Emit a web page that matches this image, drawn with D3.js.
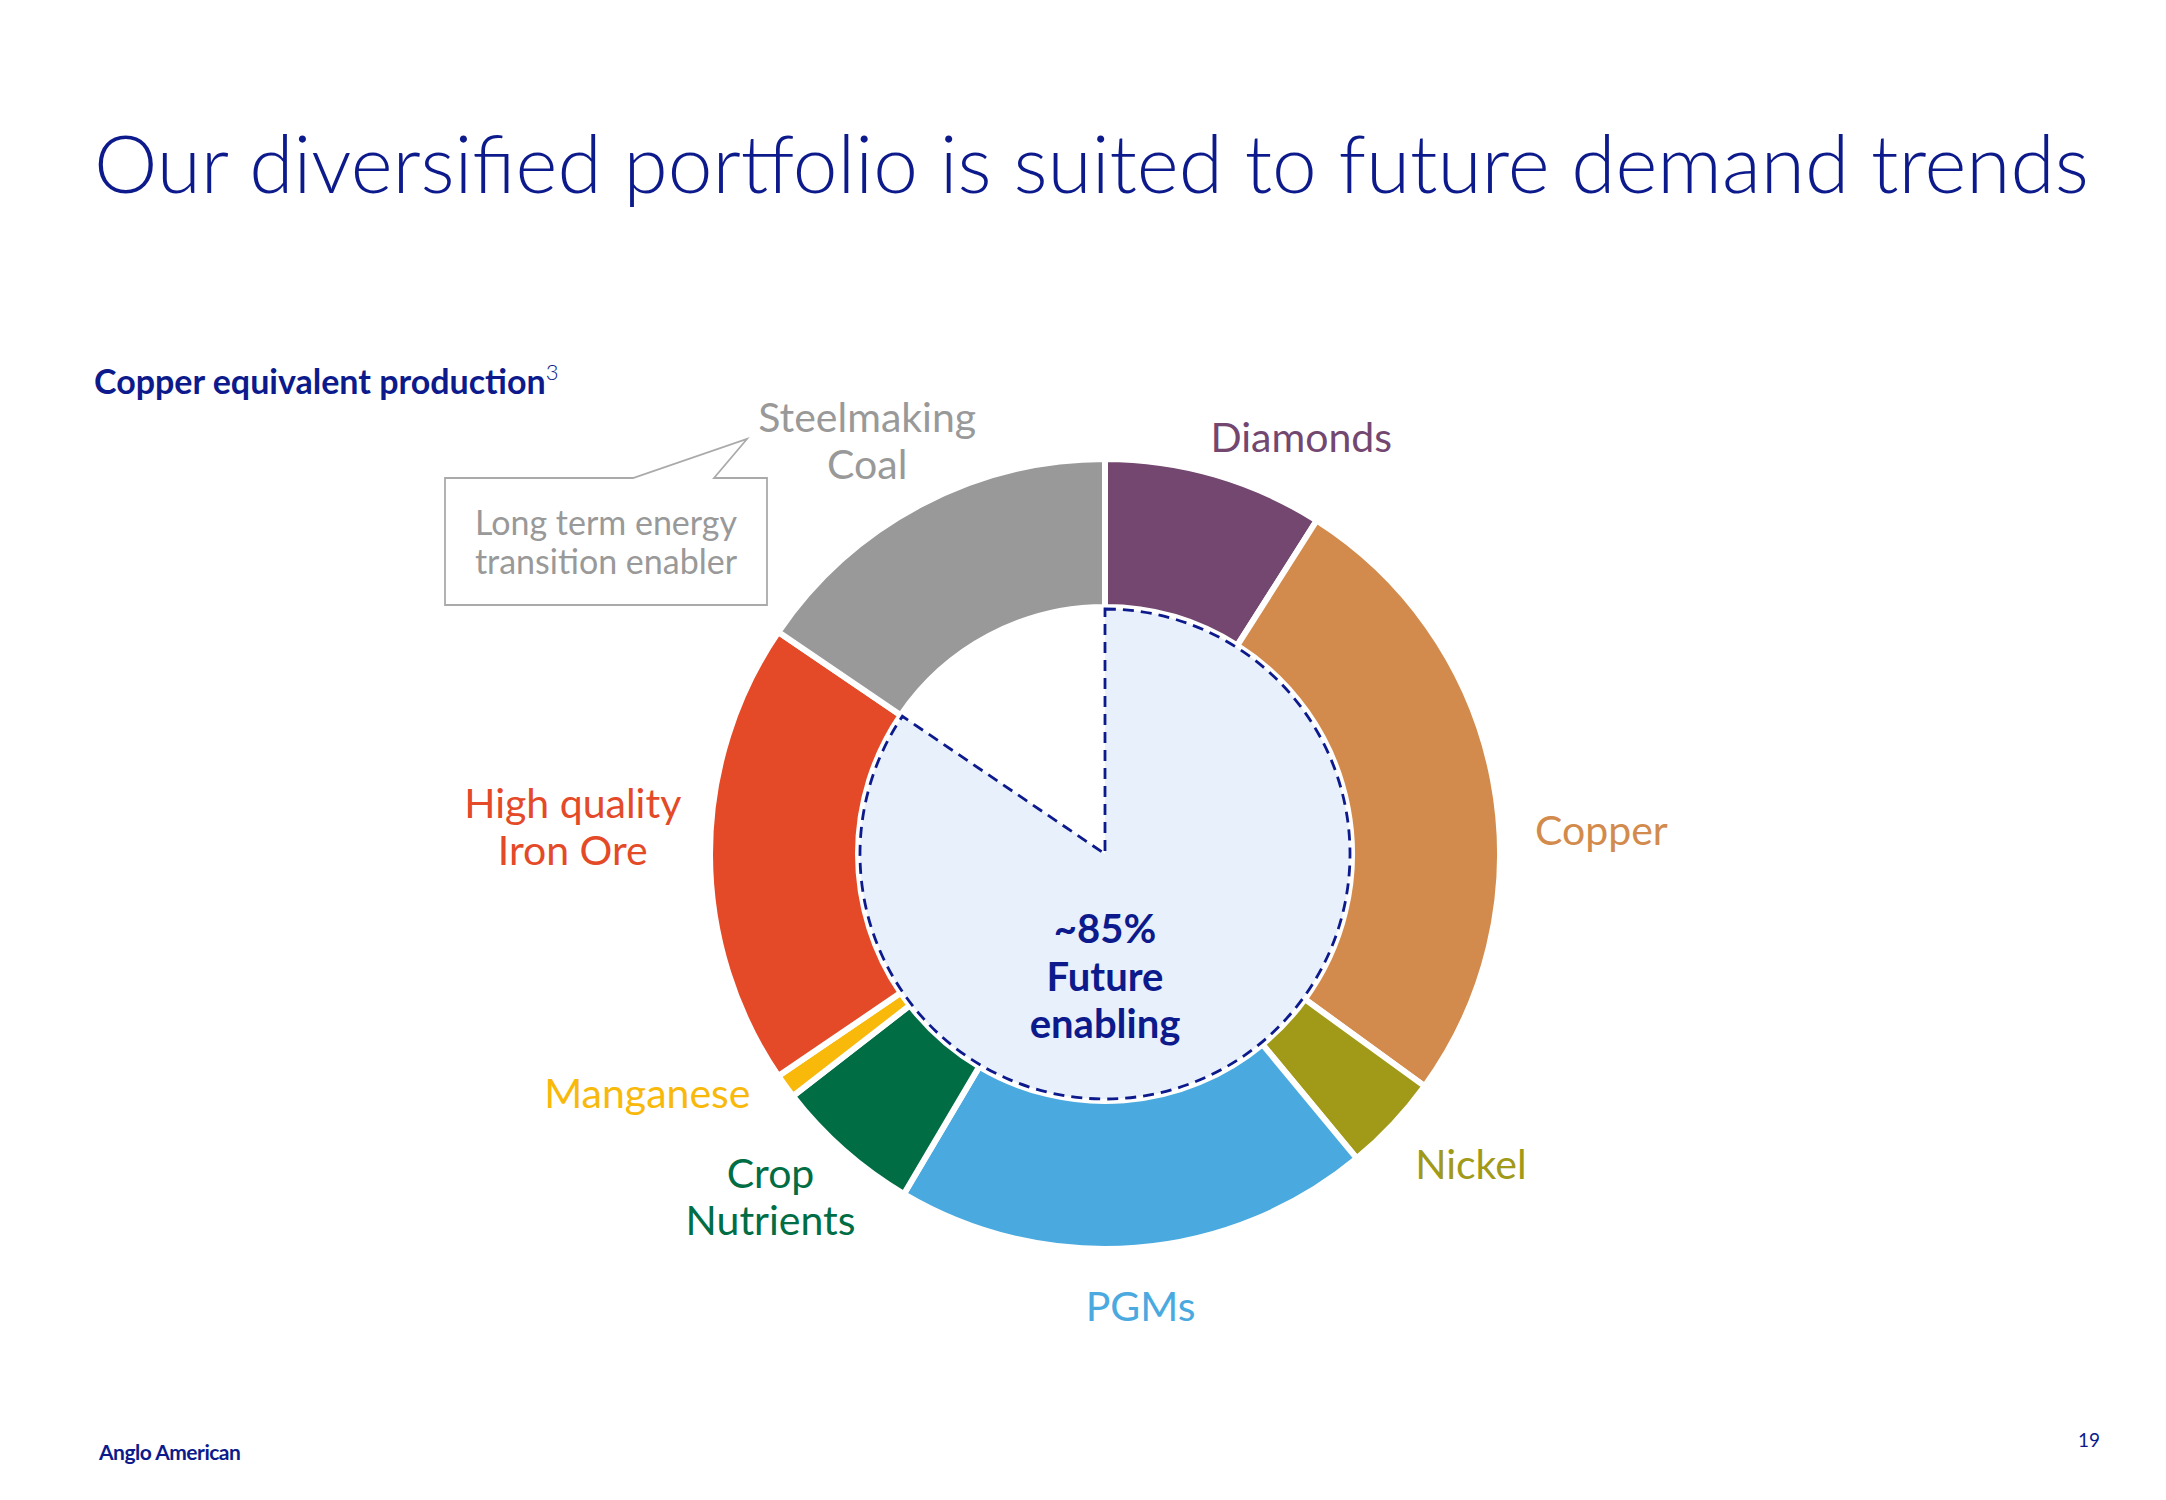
<!DOCTYPE html>
<html>
<head>
<meta charset="utf-8">
<script src="https://cdn.jsdelivr.net/npm/d3@7"></script>
<style>
  body { margin: 0; background: #fff; }
  svg { display: block; font-family: Lato, "Noto Sans", sans-serif; }
</style>
</head>
<body>
<div id="chart"></div>
<script>
// Copper equivalent production share by commodity (%), clockwise from 12 o'clock
const categories = ["Diamonds", "Copper", "Nickel", "PGMs", "Crop Nutrients", "Manganese", "High quality Iron Ore", "Steelmaking Coal"];
const shares = [9, 26, 4, 19.5, 6, 1, 19, 15.5];
const colors = ["#734770", "#d28b4c", "#a19a18", "#4aa9df", "#006d44", "#f8b90b", "#e44a27", "#999999"];
const labelLines = [["Diamonds"], ["Copper"], ["Nickel"], ["PGMs"], ["Crop", "Nutrients"], ["Manganese"], ["High quality", "Iron Ore"], ["Steelmaking", "Coal"]];
const futureEnabling = categories.slice(0, 7);
const centreText = ["~85%", "Future", "enabling"];

const width = 2166, height = 1500;
const navy = "#0c1a8c";
const cx = 1105, cy = 854;
const outerR = 395, innerR = 247;

const svg = d3.select("#chart").append("svg")
    .attr("width", width)
    .attr("height", height);

// Title, sized to span the same width as the original
const title = svg.append("text")
    .attr("x", 94).attr("y", 193)
    .attr("font-size", 84)
    .attr("font-weight", 300)
    .attr("fill", navy)
    .text("Our diversified portfolio is suited to future demand trends");
const tw = title.node().getComputedTextLength();
title.attr("font-size", 84 * 1995 / tw);

// Subtitle
const sub = svg.append("text")
    .attr("x", 94).attr("y", 394)
    .attr("font-size", 34)
    .attr("font-weight", 700)
    .attr("fill", navy);
sub.append("tspan").text("Copper equivalent production");
sub.append("tspan").attr("dy", -14).attr("font-size", 22).attr("font-weight", 300).text("3");

// Pie layout
const data = categories.map((c, i) => ({ name: c, value: shares[i], color: colors[i], lines: labelLines[i] }));
const pie = d3.pie().value(d => d.value).sort(null);
const arcs = pie(data);

const g = svg.append("g").attr("transform", `translate(${cx},${cy})`);

const ring = d3.arc().innerRadius(innerR).outerRadius(outerR);
g.selectAll("path.slice")
    .data(arcs)
    .enter().append("path")
    .attr("class", "slice")
    .attr("d", ring)
    .attr("fill", d => d.data.color)
    .attr("stroke", "#fff")
    .attr("stroke-width", 6)
    .attr("stroke-linejoin", "round");

// Future-enabling sector inside the ring
const fe = arcs.filter(a => futureEnabling.includes(a.data.name));
const feArc = d3.arc().innerRadius(0).outerRadius(innerR - 2)
    .startAngle(d3.min(fe, a => a.startAngle))
    .endAngle(d3.max(fe, a => a.endAngle));
g.append("path")
    .attr("d", feArc())
    .attr("fill", "#e8f0fb")
    .attr("stroke", navy)
    .attr("stroke-width", 2.8)
    .attr("stroke-dasharray", "11,7");

// Centre text
g.selectAll("text.centre")
    .data(centreText)
    .enter().append("text")
    .attr("class", "centre")
    .attr("x", 0)
    .attr("y", (d, i) => 89 + i * 47.5)
    .attr("text-anchor", "middle")
    .attr("font-size", 40)
    .attr("font-weight", 700)
    .attr("fill", navy)
    .text(d => d);

// Category labels: placed on a polar ring around the donut
const labelR = [461, 497, 479, 453, 478, 516, 533, 477];
const labelNudge = [9, 8, -3, 0, 3, 8.5, 3, -2]; // degrees
const lineH = 47;
const lbl = g.selectAll("g.lbl")
    .data(arcs)
    .enter().append("g")
    .attr("class", "lbl")
    .attr("transform", (d, i) => {
        const a = (d.startAngle + d.endAngle) / 2 + labelNudge[i] * Math.PI / 180;
        return `translate(${labelR[i] * Math.sin(a)},${-labelR[i] * Math.cos(a)})`;
    });
lbl.each(function(d) {
    const n = d.data.lines.length;
    d3.select(this).selectAll("text")
        .data(d.data.lines)
        .enter().append("text")
        .attr("text-anchor", "middle")
        .attr("dominant-baseline", "central")
        .attr("y", (t, j) => (j - (n - 1) / 2) * lineH)
        .attr("font-size", 41)
        .attr("fill", d.data.color)
        .text(t => t);
});

// Callout for Steelmaking Coal
svg.append("path")
    .attr("d", "M445,478 L633,478 L747,439 L714,478 L767,478 L767,605 L445,605 Z")
    .attr("fill", "#fff")
    .attr("stroke", "#aaaaaa")
    .attr("stroke-width", 1.8);
svg.selectAll("text.callout")
    .data(["Long term energy", "transition enabler"])
    .enter().append("text")
    .attr("class", "callout")
    .attr("x", 606)
    .attr("y", (d, i) => 535 + i * 39)
    .attr("text-anchor", "middle")
    .attr("font-size", 34)
    .attr("fill", "#999999")
    .text(d => d);

// Footer
svg.append("text")
    .attr("x", 99).attr("y", 1460)
    .attr("font-size", 21)
    .attr("font-weight", 700)
    .attr("fill", navy)
    .attr("letter-spacing", -0.5)
    .text("Anglo American");
svg.append("text")
    .attr("x", 2089).attr("y", 1447)
    .attr("text-anchor", "middle")
    .attr("font-size", 19)
    .attr("fill", navy)
    .text("19");
</script>
</body>
</html>
